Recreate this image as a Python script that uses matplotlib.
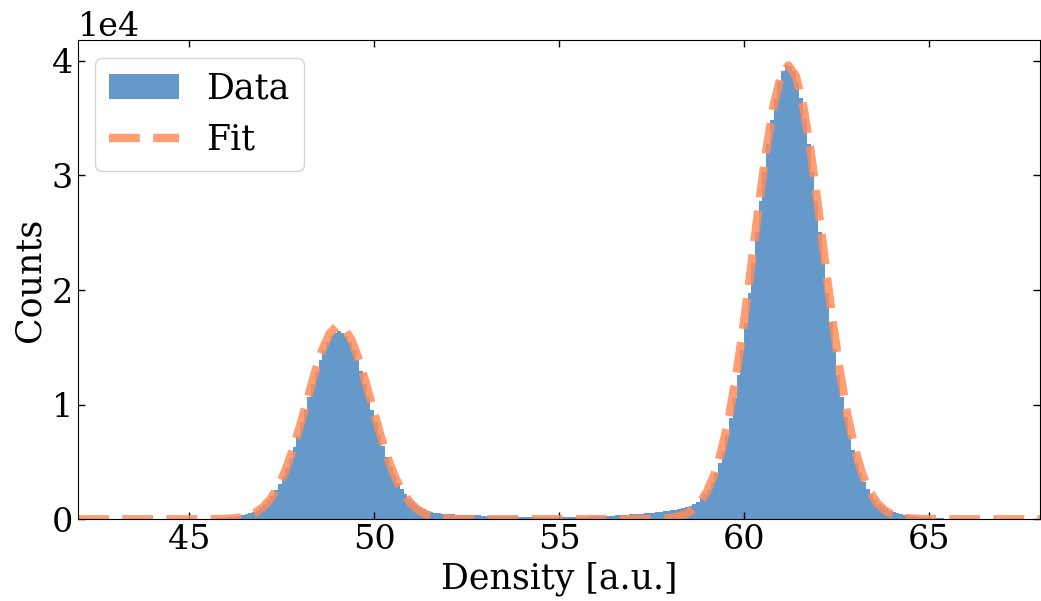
import numpy as np
import matplotlib
matplotlib.use("Agg")
import matplotlib.pyplot as plt

# histogram of the measured density, 0.1 wide bins from 45.0 to 66.0
bin_start = 45.0
bin_width = 0.1
data_counts = [
    20, 25, 30, 35, 40, 50, 60, 70, 85, 100,
    170, 210, 250, 300, 360, 440, 540, 670, 840, 1060,
    1320, 1650, 2040, 2520, 3080, 3740, 4490, 5330, 6280, 7300,
    8390, 9520, 10670, 11800, 12880, 13870, 14740, 15450, 15970, 16290,
    16400, 16260, 15970, 15450, 14740, 13880, 12900, 11830, 10710, 9570,
    8450, 7370, 6360, 5420, 4590, 3850, 3200, 2650, 2190, 1810,
    1500, 1250, 1050, 880, 760, 660, 580, 520, 480, 450,
    435, 422, 410, 398, 387, 376, 365, 352, 340, 328,
    317, 306, 296, 287, 278, 270, 262, 255, 248, 241,
    235, 229, 223, 218, 213, 209, 205, 202, 200, 199,
    199, 200, 203, 207, 212, 218, 225, 233, 242, 252,
    263, 275, 288, 302, 318, 335, 354, 375, 398, 423,
    445, 470, 495, 520, 545, 570, 600, 630, 680, 720,
    770, 820, 880, 950, 1040, 1170, 1330, 1540, 1820, 2190,
    2660, 3250, 4000, 4900, 6000, 7310, 8850, 10600, 12590, 14790,
    17170, 19720, 22360, 25050, 27730, 30310, 32720, 34880, 36700, 38130,
    39130, 39640, 39590, 39150, 38150, 36720, 34900, 32750, 30340, 27760,
    25090, 22400, 19760, 17210, 14830, 12630, 10650, 8890, 7350, 6030,
    4930, 4000, 3230, 2610, 2100, 1690, 1370, 1120, 920, 760,
    640, 540, 470, 410, 360, 310, 270, 235, 200, 170,
    145, 120, 100, 82, 66, 52, 40, 30, 22, 15,
]

# fitted curve sampled every 0.2 from 42.0 to 68.0
fit_start = 42.0
fit_step = 0.2
fit_counts = [
    0, 0, 0, 0, 0, 0, 0, 0, 0, 0,
    0, 0, 0, 0, 0, 0, 0, 0, 0, 16,
    36, 79, 163, 321, 596, 1053, 1763, 2799, 4215, 6020,
    8158, 10486, 12785, 14784, 16217, 16872, 16650, 15587, 13839, 11654,
    9310, 7054, 5070, 3456, 2236, 1371, 798, 440, 230, 114,
    54, 24, 10, 0, 0, 0, 0, 0, 0, 0,
    0, 0, 0, 0, 0, 0, 0, 0, 0, 0,
    0, 0, 0, 0, 0, 0, 0, 9, 22, 50,
    107, 218, 426, 796, 1418, 2412, 3920, 6087, 9013, 12751,
    17226, 22216, 27352, 32159, 36103, 38694, 39600, 38694, 36103, 32159,
    27352, 22216, 17226, 12751, 9013, 6087, 3920, 2412, 1418, 796,
    426, 218, 107, 50, 22, 9, 0, 0, 0, 0,
    0, 0, 0, 0, 0, 0, 0, 0, 0, 0,
    0,
]

edges = bin_start + bin_width * np.arange(len(data_counts) + 1)
centers = edges[:-1] + bin_width / 2
fit_x = fit_start + fit_step * np.arange(len(fit_counts))

plt.rcParams['font.family'] = 'DejaVu Serif'
plt.rcParams['font.size'] = 25
plt.rcParams['xtick.labelsize'] = 24
plt.rcParams['ytick.labelsize'] = 24

fig, ax = plt.subplots(figsize=(10.41, 6.01), dpi=100)
fig.subplots_adjust(left=0.075, right=0.999, top=0.933, bottom=0.136)

ax.hist(centers, bins=edges, weights=data_counts, histtype='stepfilled',
        color='#6499CA', label='Data')
ax.plot(fit_x, fit_counts, '--', color='#FF8C5A', alpha=0.85, lw=6, label='Fit')

ax.set_xlim(42, 68)
ax.set_ylim(0, 41800)
ax.set_xticks([45, 50, 55, 60, 65])
ax.set_yticks([0, 10000, 20000, 30000, 40000])
ax.ticklabel_format(axis='y', style='sci', scilimits=(4, 4))
ax.tick_params(direction='in', top=True, right=True, length=5, width=1)
ax.set_xlabel('Density [a.u.]')
ax.set_ylabel('Counts')
ax.legend(loc='upper left')

fig.savefig('out.png', dpi=100)
